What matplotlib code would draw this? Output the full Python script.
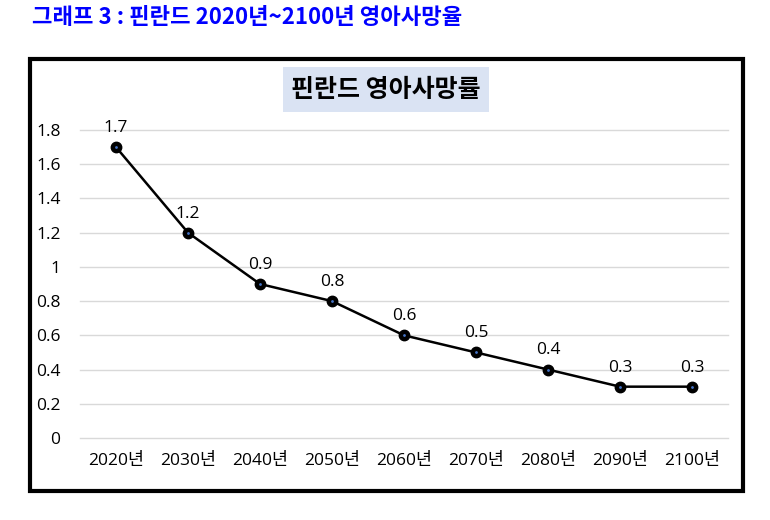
import matplotlib.pyplot as plt
from matplotlib.patches import Rectangle

plt.rcParams['font.family'] = ['Open Sans', 'Noto Sans CJK KR', 'DejaVu Sans']

# 데이터
years = ["2020년", "2030년", "2040년", "2050년", "2060년", "2070년", "2080년", "2090년", "2100년"]
rates = [1.7, 1.2, 0.9, 0.8, 0.6, 0.5, 0.4, 0.3, 0.3]
yticks = [0, 0.2, 0.4, 0.6, 0.8, 1, 1.2, 1.4, 1.6, 1.8]
ytick_labels = ["0", "0.2", "0.4", "0.6", "0.8", "1", "1.2", "1.4", "1.6", "1.8"]

W, H = 770, 520
fig = plt.figure(figsize=(W / 100, H / 100), dpi=100)

# 바깥 테두리
fig.patches.append(Rectangle((30 / W, 1 - 491 / H), 713 / W, 432 / H,
                             transform=fig.transFigure, fill=False,
                             edgecolor="black", linewidth=3))

# 상단 제목
fig.text(32 / W, 1 - 18 / H, "그래프 3 : 핀란드 2020년~2100년 영아사망율",
         color="#0000FF", fontsize=16, fontweight="bold", va="center", ha="left",
         family=['Noto Sans CJK KR', 'DejaVu Sans'])

ax = fig.add_axes([80 / W, 1 - 438 / H, 648 / W, 308 / H])
x = range(len(years))
ax.plot(x, rates, color="black", linewidth=1.8, marker="o", markersize=7.5,
        markerfacecolor="black", markeredgecolor="black", zorder=3, clip_on=False)
ax.plot(x, rates, linestyle="none", marker=".", markersize=2, color="#4472C4",
        zorder=4, clip_on=False)

for i, v in zip(x, rates):
    ax.annotate(f"{v}", (i, v), textcoords="offset points", xytext=(0, 8),
                ha="center", va="bottom", fontsize=12.5)

ax.set_xlim(-0.5, len(years) - 0.5)
ax.set_ylim(0, 1.8)
ax.set_xticks(list(x))
ax.set_xticklabels(years, fontsize=12.5)
ax.set_yticks(yticks)
ax.set_yticklabels(ytick_labels, fontsize=12.5)
ax.tick_params(length=0, pad=11)
ax.tick_params(axis="y", pad=14)
ax.grid(axis="y", color="#D9D9D9", linewidth=1)
for gl in ax.get_ygridlines():
    gl.set_clip_on(False)
ax.set_axisbelow(True)
for s in ax.spines.values():
    s.set_visible(False)

# 차트 제목
fig.patches.append(Rectangle((283 / W, 1 - 112 / H), 206 / W, 45 / H,
                             transform=fig.transFigure, facecolor="#DAE3F3",
                             edgecolor="none"))
fig.text(386 / W, 1 - 90 / H, "핀란드 영아사망률", fontsize=18, fontweight="bold",
         ha="center", va="center", family=['Noto Sans CJK KR', 'DejaVu Sans'])

fig.savefig("out.png", dpi=100)
